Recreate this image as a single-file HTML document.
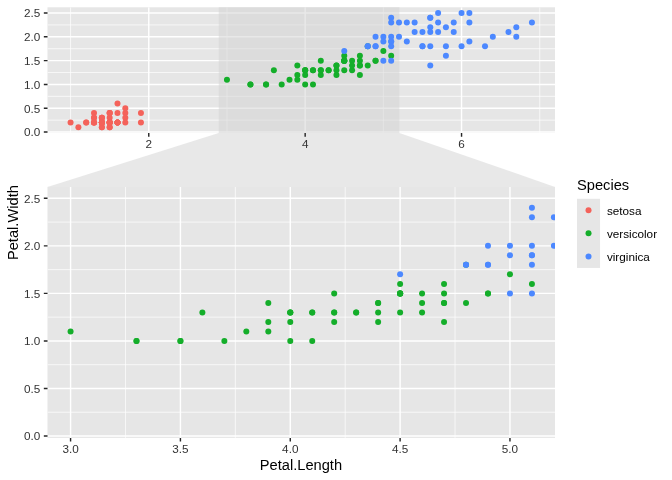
<!DOCTYPE html>
<html><head><meta charset="utf-8"><title>Iris facet zoom</title>
<style>html,body{margin:0;padding:0;background:#fff}svg{display:block}</style></head>
<body>
<svg width="672" height="480" viewBox="0 0 672 480" font-family="'Liberation Sans', Arial, Helvetica, sans-serif">
<rect width="672" height="480" fill="#fff"/>
<clipPath id="c1"><rect x="47.5" y="7.3" width="507.5" height="125.7"/></clipPath>
<rect x="47.5" y="7.3" width="507.5" height="125.7" fill="#e6e6e6"/>
<g clip-path="url(#c1)">
<path d="M47.5 120.14H555.0M47.5 96.34H555.0M47.5 72.53H555.0M47.5 48.72H555.0M47.5 24.92H555.0M70.57 7.3V133.0M226.96 7.3V133.0M383.36 7.3V133.0M539.75 7.3V133.0" stroke="#fff" stroke-width="0.71" fill="none"/>
<path d="M47.5 132.05H555.0M47.5 108.24H555.0M47.5 84.43H555.0M47.5 60.63H555.0M47.5 36.82H555.0M47.5 13.01H555.0M148.77 7.3V133.0M305.16 7.3V133.0M461.55 7.3V133.0" stroke="#fff" stroke-width="1.42" fill="none"/>
</g>
<rect x="218.75" y="7.3" width="180.64" height="125.7" fill="#d1d1d1" fill-opacity="0.5"/>
<g clip-path="url(#c1)">
<circle cx="101.85" cy="122.53" r="3.0" fill="#F4625A"/>
<circle cx="101.85" cy="122.53" r="3.0" fill="#F4625A"/>
<circle cx="94.03" cy="122.53" r="3.0" fill="#F4625A"/>
<circle cx="109.67" cy="122.53" r="3.0" fill="#F4625A"/>
<circle cx="101.85" cy="122.53" r="3.0" fill="#F4625A"/>
<circle cx="125.31" cy="113" r="3.0" fill="#F4625A"/>
<circle cx="101.85" cy="117.76" r="3.0" fill="#F4625A"/>
<circle cx="109.67" cy="122.53" r="3.0" fill="#F4625A"/>
<circle cx="101.85" cy="122.53" r="3.0" fill="#F4625A"/>
<circle cx="109.67" cy="127.29" r="3.0" fill="#F4625A"/>
<circle cx="109.67" cy="122.53" r="3.0" fill="#F4625A"/>
<circle cx="117.49" cy="122.53" r="3.0" fill="#F4625A"/>
<circle cx="101.85" cy="127.29" r="3.0" fill="#F4625A"/>
<circle cx="78.39" cy="127.29" r="3.0" fill="#F4625A"/>
<circle cx="86.21" cy="122.53" r="3.0" fill="#F4625A"/>
<circle cx="109.67" cy="113" r="3.0" fill="#F4625A"/>
<circle cx="94.03" cy="113" r="3.0" fill="#F4625A"/>
<circle cx="101.85" cy="117.76" r="3.0" fill="#F4625A"/>
<circle cx="125.31" cy="117.76" r="3.0" fill="#F4625A"/>
<circle cx="109.67" cy="117.76" r="3.0" fill="#F4625A"/>
<circle cx="125.31" cy="122.53" r="3.0" fill="#F4625A"/>
<circle cx="109.67" cy="113" r="3.0" fill="#F4625A"/>
<circle cx="70.57" cy="122.53" r="3.0" fill="#F4625A"/>
<circle cx="125.31" cy="108.24" r="3.0" fill="#F4625A"/>
<circle cx="140.95" cy="122.53" r="3.0" fill="#F4625A"/>
<circle cx="117.49" cy="122.53" r="3.0" fill="#F4625A"/>
<circle cx="117.49" cy="113" r="3.0" fill="#F4625A"/>
<circle cx="109.67" cy="122.53" r="3.0" fill="#F4625A"/>
<circle cx="101.85" cy="122.53" r="3.0" fill="#F4625A"/>
<circle cx="117.49" cy="122.53" r="3.0" fill="#F4625A"/>
<circle cx="117.49" cy="122.53" r="3.0" fill="#F4625A"/>
<circle cx="109.67" cy="113" r="3.0" fill="#F4625A"/>
<circle cx="109.67" cy="127.29" r="3.0" fill="#F4625A"/>
<circle cx="101.85" cy="122.53" r="3.0" fill="#F4625A"/>
<circle cx="109.67" cy="122.53" r="3.0" fill="#F4625A"/>
<circle cx="86.21" cy="122.53" r="3.0" fill="#F4625A"/>
<circle cx="94.03" cy="122.53" r="3.0" fill="#F4625A"/>
<circle cx="101.85" cy="127.29" r="3.0" fill="#F4625A"/>
<circle cx="94.03" cy="122.53" r="3.0" fill="#F4625A"/>
<circle cx="109.67" cy="122.53" r="3.0" fill="#F4625A"/>
<circle cx="94.03" cy="117.76" r="3.0" fill="#F4625A"/>
<circle cx="94.03" cy="117.76" r="3.0" fill="#F4625A"/>
<circle cx="94.03" cy="122.53" r="3.0" fill="#F4625A"/>
<circle cx="117.49" cy="103.48" r="3.0" fill="#F4625A"/>
<circle cx="140.95" cy="113" r="3.0" fill="#F4625A"/>
<circle cx="101.85" cy="117.76" r="3.0" fill="#F4625A"/>
<circle cx="117.49" cy="122.53" r="3.0" fill="#F4625A"/>
<circle cx="101.85" cy="122.53" r="3.0" fill="#F4625A"/>
<circle cx="109.67" cy="122.53" r="3.0" fill="#F4625A"/>
<circle cx="101.85" cy="122.53" r="3.0" fill="#F4625A"/>
<circle cx="359.9" cy="65.39" r="3.0" fill="#14AE2A"/>
<circle cx="344.26" cy="60.63" r="3.0" fill="#14AE2A"/>
<circle cx="375.54" cy="60.63" r="3.0" fill="#14AE2A"/>
<circle cx="305.16" cy="70.15" r="3.0" fill="#14AE2A"/>
<circle cx="352.08" cy="60.63" r="3.0" fill="#14AE2A"/>
<circle cx="344.26" cy="70.15" r="3.0" fill="#14AE2A"/>
<circle cx="359.9" cy="55.87" r="3.0" fill="#14AE2A"/>
<circle cx="250.42" cy="84.43" r="3.0" fill="#14AE2A"/>
<circle cx="352.08" cy="70.15" r="3.0" fill="#14AE2A"/>
<circle cx="297.34" cy="65.39" r="3.0" fill="#14AE2A"/>
<circle cx="266.06" cy="84.43" r="3.0" fill="#14AE2A"/>
<circle cx="320.8" cy="60.63" r="3.0" fill="#14AE2A"/>
<circle cx="305.16" cy="84.43" r="3.0" fill="#14AE2A"/>
<circle cx="359.9" cy="65.39" r="3.0" fill="#14AE2A"/>
<circle cx="273.88" cy="70.15" r="3.0" fill="#14AE2A"/>
<circle cx="336.44" cy="65.39" r="3.0" fill="#14AE2A"/>
<circle cx="344.26" cy="60.63" r="3.0" fill="#14AE2A"/>
<circle cx="312.98" cy="84.43" r="3.0" fill="#14AE2A"/>
<circle cx="344.26" cy="60.63" r="3.0" fill="#14AE2A"/>
<circle cx="297.34" cy="79.67" r="3.0" fill="#14AE2A"/>
<circle cx="367.72" cy="46.34" r="3.0" fill="#14AE2A"/>
<circle cx="305.16" cy="70.15" r="3.0" fill="#14AE2A"/>
<circle cx="375.54" cy="60.63" r="3.0" fill="#14AE2A"/>
<circle cx="359.9" cy="74.91" r="3.0" fill="#14AE2A"/>
<circle cx="328.62" cy="70.15" r="3.0" fill="#14AE2A"/>
<circle cx="336.44" cy="65.39" r="3.0" fill="#14AE2A"/>
<circle cx="367.72" cy="65.39" r="3.0" fill="#14AE2A"/>
<circle cx="383.36" cy="51.1" r="3.0" fill="#14AE2A"/>
<circle cx="344.26" cy="60.63" r="3.0" fill="#14AE2A"/>
<circle cx="266.06" cy="84.43" r="3.0" fill="#14AE2A"/>
<circle cx="289.52" cy="79.67" r="3.0" fill="#14AE2A"/>
<circle cx="281.7" cy="84.43" r="3.0" fill="#14AE2A"/>
<circle cx="297.34" cy="74.91" r="3.0" fill="#14AE2A"/>
<circle cx="391.18" cy="55.87" r="3.0" fill="#14AE2A"/>
<circle cx="344.26" cy="60.63" r="3.0" fill="#14AE2A"/>
<circle cx="344.26" cy="55.87" r="3.0" fill="#14AE2A"/>
<circle cx="359.9" cy="60.63" r="3.0" fill="#14AE2A"/>
<circle cx="336.44" cy="70.15" r="3.0" fill="#14AE2A"/>
<circle cx="312.98" cy="70.15" r="3.0" fill="#14AE2A"/>
<circle cx="305.16" cy="70.15" r="3.0" fill="#14AE2A"/>
<circle cx="336.44" cy="74.91" r="3.0" fill="#14AE2A"/>
<circle cx="352.08" cy="65.39" r="3.0" fill="#14AE2A"/>
<circle cx="305.16" cy="74.91" r="3.0" fill="#14AE2A"/>
<circle cx="250.42" cy="84.43" r="3.0" fill="#14AE2A"/>
<circle cx="320.8" cy="70.15" r="3.0" fill="#14AE2A"/>
<circle cx="320.8" cy="74.91" r="3.0" fill="#14AE2A"/>
<circle cx="320.8" cy="70.15" r="3.0" fill="#14AE2A"/>
<circle cx="328.62" cy="70.15" r="3.0" fill="#14AE2A"/>
<circle cx="226.96" cy="79.67" r="3.0" fill="#14AE2A"/>
<circle cx="312.98" cy="70.15" r="3.0" fill="#14AE2A"/>
<circle cx="461.55" cy="13.01" r="3.0" fill="#4C88FF"/>
<circle cx="391.18" cy="41.58" r="3.0" fill="#4C88FF"/>
<circle cx="453.73" cy="32.06" r="3.0" fill="#4C88FF"/>
<circle cx="430.28" cy="46.34" r="3.0" fill="#4C88FF"/>
<circle cx="445.91" cy="27.3" r="3.0" fill="#4C88FF"/>
<circle cx="508.47" cy="32.06" r="3.0" fill="#4C88FF"/>
<circle cx="344.26" cy="51.1" r="3.0" fill="#4C88FF"/>
<circle cx="485.01" cy="46.34" r="3.0" fill="#4C88FF"/>
<circle cx="445.91" cy="46.34" r="3.0" fill="#4C88FF"/>
<circle cx="469.37" cy="13.01" r="3.0" fill="#4C88FF"/>
<circle cx="391.18" cy="36.82" r="3.0" fill="#4C88FF"/>
<circle cx="406.82" cy="41.58" r="3.0" fill="#4C88FF"/>
<circle cx="422.46" cy="32.06" r="3.0" fill="#4C88FF"/>
<circle cx="383.36" cy="36.82" r="3.0" fill="#4C88FF"/>
<circle cx="391.18" cy="17.78" r="3.0" fill="#4C88FF"/>
<circle cx="406.82" cy="22.54" r="3.0" fill="#4C88FF"/>
<circle cx="422.46" cy="46.34" r="3.0" fill="#4C88FF"/>
<circle cx="516.29" cy="27.3" r="3.0" fill="#4C88FF"/>
<circle cx="531.93" cy="22.54" r="3.0" fill="#4C88FF"/>
<circle cx="383.36" cy="60.63" r="3.0" fill="#4C88FF"/>
<circle cx="438.1" cy="22.54" r="3.0" fill="#4C88FF"/>
<circle cx="375.54" cy="36.82" r="3.0" fill="#4C88FF"/>
<circle cx="516.29" cy="36.82" r="3.0" fill="#4C88FF"/>
<circle cx="375.54" cy="46.34" r="3.0" fill="#4C88FF"/>
<circle cx="438.1" cy="32.06" r="3.0" fill="#4C88FF"/>
<circle cx="461.55" cy="46.34" r="3.0" fill="#4C88FF"/>
<circle cx="367.72" cy="46.34" r="3.0" fill="#4C88FF"/>
<circle cx="375.54" cy="46.34" r="3.0" fill="#4C88FF"/>
<circle cx="430.28" cy="32.06" r="3.0" fill="#4C88FF"/>
<circle cx="445.91" cy="55.87" r="3.0" fill="#4C88FF"/>
<circle cx="469.37" cy="41.58" r="3.0" fill="#4C88FF"/>
<circle cx="492.83" cy="36.82" r="3.0" fill="#4C88FF"/>
<circle cx="430.28" cy="27.3" r="3.0" fill="#4C88FF"/>
<circle cx="391.18" cy="60.63" r="3.0" fill="#4C88FF"/>
<circle cx="430.28" cy="65.39" r="3.0" fill="#4C88FF"/>
<circle cx="469.37" cy="22.54" r="3.0" fill="#4C88FF"/>
<circle cx="430.28" cy="17.78" r="3.0" fill="#4C88FF"/>
<circle cx="422.46" cy="46.34" r="3.0" fill="#4C88FF"/>
<circle cx="367.72" cy="46.34" r="3.0" fill="#4C88FF"/>
<circle cx="414.64" cy="32.06" r="3.0" fill="#4C88FF"/>
<circle cx="430.28" cy="17.78" r="3.0" fill="#4C88FF"/>
<circle cx="391.18" cy="22.54" r="3.0" fill="#4C88FF"/>
<circle cx="391.18" cy="41.58" r="3.0" fill="#4C88FF"/>
<circle cx="453.73" cy="22.54" r="3.0" fill="#4C88FF"/>
<circle cx="438.1" cy="13.01" r="3.0" fill="#4C88FF"/>
<circle cx="399" cy="22.54" r="3.0" fill="#4C88FF"/>
<circle cx="383.36" cy="41.58" r="3.0" fill="#4C88FF"/>
<circle cx="399" cy="36.82" r="3.0" fill="#4C88FF"/>
<circle cx="414.64" cy="22.54" r="3.0" fill="#4C88FF"/>
<circle cx="391.18" cy="46.34" r="3.0" fill="#4C88FF"/>
</g>
<polygon points="218.75,133.0 399.39,133.0 555.0,186.9 47.5,186.9" fill="#d1d1d1" fill-opacity="0.5"/>
<path d="M43.83 132.05H47.5M43.83 108.24H47.5M43.83 84.43H47.5M43.83 60.63H47.5M43.83 36.82H47.5M43.83 13.01H47.5M148.77 133.0v3.67M305.16 133.0v3.67M461.55 133.0v3.67" stroke="#262626" stroke-width="1.42" fill="none"/>
<g font-size="11.73" fill="#333">
<text x="40.3" y="136.35" text-anchor="end">0.0</text>
<text x="40.3" y="112.54" text-anchor="end">0.5</text>
<text x="40.3" y="88.73" text-anchor="end">1.0</text>
<text x="40.3" y="64.93" text-anchor="end">1.5</text>
<text x="40.3" y="41.12" text-anchor="end">2.0</text>
<text x="40.3" y="17.31" text-anchor="end">2.5</text>
<text x="148.77" y="148.3" text-anchor="middle">2</text>
<text x="305.16" y="148.3" text-anchor="middle">4</text>
<text x="461.55" y="148.3" text-anchor="middle">6</text>
</g>
<clipPath id="c2"><rect x="47.5" y="186.9" width="507.5" height="251"/></clipPath>
<rect x="47.5" y="186.9" width="507.5" height="251" fill="#e6e6e6"/>
<g clip-path="url(#c2)">
<path d="M47.5 412.23H555.0M47.5 364.69H555.0M47.5 317.15H555.0M47.5 269.62H555.0M47.5 222.08H555.0M125.49 186.9V437.9M235.34 186.9V437.9M345.19 186.9V437.9M455.04 186.9V437.9" stroke="#fff" stroke-width="0.71" fill="none"/>
<path d="M47.5 436H555.0M47.5 388.46H555.0M47.5 340.92H555.0M47.5 293.38H555.0M47.5 245.85H555.0M47.5 198.31H555.0M70.57 186.9V437.9M180.42 186.9V437.9M290.27 186.9V437.9M400.11 186.9V437.9M509.96 186.9V437.9" stroke="#fff" stroke-width="1.42" fill="none"/>
</g>
<g clip-path="url(#c2)">
<circle cx="-280.95" cy="416.98" r="3.0" fill="#F4625A"/>
<circle cx="-280.95" cy="416.98" r="3.0" fill="#F4625A"/>
<circle cx="-302.92" cy="416.98" r="3.0" fill="#F4625A"/>
<circle cx="-258.98" cy="416.98" r="3.0" fill="#F4625A"/>
<circle cx="-280.95" cy="416.98" r="3.0" fill="#F4625A"/>
<circle cx="-215.04" cy="397.97" r="3.0" fill="#F4625A"/>
<circle cx="-280.95" cy="407.48" r="3.0" fill="#F4625A"/>
<circle cx="-258.98" cy="416.98" r="3.0" fill="#F4625A"/>
<circle cx="-280.95" cy="416.98" r="3.0" fill="#F4625A"/>
<circle cx="-258.98" cy="426.49" r="3.0" fill="#F4625A"/>
<circle cx="-258.98" cy="416.98" r="3.0" fill="#F4625A"/>
<circle cx="-237.01" cy="416.98" r="3.0" fill="#F4625A"/>
<circle cx="-280.95" cy="426.49" r="3.0" fill="#F4625A"/>
<circle cx="-346.86" cy="426.49" r="3.0" fill="#F4625A"/>
<circle cx="-324.89" cy="416.98" r="3.0" fill="#F4625A"/>
<circle cx="-258.98" cy="397.97" r="3.0" fill="#F4625A"/>
<circle cx="-302.92" cy="397.97" r="3.0" fill="#F4625A"/>
<circle cx="-280.95" cy="407.48" r="3.0" fill="#F4625A"/>
<circle cx="-215.04" cy="407.48" r="3.0" fill="#F4625A"/>
<circle cx="-258.98" cy="407.48" r="3.0" fill="#F4625A"/>
<circle cx="-215.04" cy="416.98" r="3.0" fill="#F4625A"/>
<circle cx="-258.98" cy="397.97" r="3.0" fill="#F4625A"/>
<circle cx="-368.83" cy="416.98" r="3.0" fill="#F4625A"/>
<circle cx="-215.04" cy="388.46" r="3.0" fill="#F4625A"/>
<circle cx="-171.1" cy="416.98" r="3.0" fill="#F4625A"/>
<circle cx="-237.01" cy="416.98" r="3.0" fill="#F4625A"/>
<circle cx="-237.01" cy="397.97" r="3.0" fill="#F4625A"/>
<circle cx="-258.98" cy="416.98" r="3.0" fill="#F4625A"/>
<circle cx="-280.95" cy="416.98" r="3.0" fill="#F4625A"/>
<circle cx="-237.01" cy="416.98" r="3.0" fill="#F4625A"/>
<circle cx="-237.01" cy="416.98" r="3.0" fill="#F4625A"/>
<circle cx="-258.98" cy="397.97" r="3.0" fill="#F4625A"/>
<circle cx="-258.98" cy="426.49" r="3.0" fill="#F4625A"/>
<circle cx="-280.95" cy="416.98" r="3.0" fill="#F4625A"/>
<circle cx="-258.98" cy="416.98" r="3.0" fill="#F4625A"/>
<circle cx="-324.89" cy="416.98" r="3.0" fill="#F4625A"/>
<circle cx="-302.92" cy="416.98" r="3.0" fill="#F4625A"/>
<circle cx="-280.95" cy="426.49" r="3.0" fill="#F4625A"/>
<circle cx="-302.92" cy="416.98" r="3.0" fill="#F4625A"/>
<circle cx="-258.98" cy="416.98" r="3.0" fill="#F4625A"/>
<circle cx="-302.92" cy="407.48" r="3.0" fill="#F4625A"/>
<circle cx="-302.92" cy="407.48" r="3.0" fill="#F4625A"/>
<circle cx="-302.92" cy="416.98" r="3.0" fill="#F4625A"/>
<circle cx="-237.01" cy="378.95" r="3.0" fill="#F4625A"/>
<circle cx="-171.1" cy="397.97" r="3.0" fill="#F4625A"/>
<circle cx="-280.95" cy="407.48" r="3.0" fill="#F4625A"/>
<circle cx="-237.01" cy="416.98" r="3.0" fill="#F4625A"/>
<circle cx="-280.95" cy="416.98" r="3.0" fill="#F4625A"/>
<circle cx="-258.98" cy="416.98" r="3.0" fill="#F4625A"/>
<circle cx="-280.95" cy="416.98" r="3.0" fill="#F4625A"/>
<circle cx="444.05" cy="302.89" r="3.0" fill="#14AE2A"/>
<circle cx="400.11" cy="293.38" r="3.0" fill="#14AE2A"/>
<circle cx="487.99" cy="293.38" r="3.0" fill="#14AE2A"/>
<circle cx="290.27" cy="312.4" r="3.0" fill="#14AE2A"/>
<circle cx="422.08" cy="293.38" r="3.0" fill="#14AE2A"/>
<circle cx="400.11" cy="312.4" r="3.0" fill="#14AE2A"/>
<circle cx="444.05" cy="283.88" r="3.0" fill="#14AE2A"/>
<circle cx="136.48" cy="340.92" r="3.0" fill="#14AE2A"/>
<circle cx="422.08" cy="312.4" r="3.0" fill="#14AE2A"/>
<circle cx="268.3" cy="302.89" r="3.0" fill="#14AE2A"/>
<circle cx="180.42" cy="340.92" r="3.0" fill="#14AE2A"/>
<circle cx="334.2" cy="293.38" r="3.0" fill="#14AE2A"/>
<circle cx="290.27" cy="340.92" r="3.0" fill="#14AE2A"/>
<circle cx="444.05" cy="302.89" r="3.0" fill="#14AE2A"/>
<circle cx="202.39" cy="312.4" r="3.0" fill="#14AE2A"/>
<circle cx="378.14" cy="302.89" r="3.0" fill="#14AE2A"/>
<circle cx="400.11" cy="293.38" r="3.0" fill="#14AE2A"/>
<circle cx="312.23" cy="340.92" r="3.0" fill="#14AE2A"/>
<circle cx="400.11" cy="293.38" r="3.0" fill="#14AE2A"/>
<circle cx="268.3" cy="331.42" r="3.0" fill="#14AE2A"/>
<circle cx="466.02" cy="264.86" r="3.0" fill="#14AE2A"/>
<circle cx="290.27" cy="312.4" r="3.0" fill="#14AE2A"/>
<circle cx="487.99" cy="293.38" r="3.0" fill="#14AE2A"/>
<circle cx="444.05" cy="321.91" r="3.0" fill="#14AE2A"/>
<circle cx="356.17" cy="312.4" r="3.0" fill="#14AE2A"/>
<circle cx="378.14" cy="302.89" r="3.0" fill="#14AE2A"/>
<circle cx="466.02" cy="302.89" r="3.0" fill="#14AE2A"/>
<circle cx="509.96" cy="274.37" r="3.0" fill="#14AE2A"/>
<circle cx="400.11" cy="293.38" r="3.0" fill="#14AE2A"/>
<circle cx="180.42" cy="340.92" r="3.0" fill="#14AE2A"/>
<circle cx="246.33" cy="331.42" r="3.0" fill="#14AE2A"/>
<circle cx="224.36" cy="340.92" r="3.0" fill="#14AE2A"/>
<circle cx="268.3" cy="321.91" r="3.0" fill="#14AE2A"/>
<circle cx="531.93" cy="283.88" r="3.0" fill="#14AE2A"/>
<circle cx="400.11" cy="293.38" r="3.0" fill="#14AE2A"/>
<circle cx="400.11" cy="283.88" r="3.0" fill="#14AE2A"/>
<circle cx="444.05" cy="293.38" r="3.0" fill="#14AE2A"/>
<circle cx="378.14" cy="312.4" r="3.0" fill="#14AE2A"/>
<circle cx="312.23" cy="312.4" r="3.0" fill="#14AE2A"/>
<circle cx="290.27" cy="312.4" r="3.0" fill="#14AE2A"/>
<circle cx="378.14" cy="321.91" r="3.0" fill="#14AE2A"/>
<circle cx="422.08" cy="302.89" r="3.0" fill="#14AE2A"/>
<circle cx="290.27" cy="321.91" r="3.0" fill="#14AE2A"/>
<circle cx="136.48" cy="340.92" r="3.0" fill="#14AE2A"/>
<circle cx="334.2" cy="312.4" r="3.0" fill="#14AE2A"/>
<circle cx="334.2" cy="321.91" r="3.0" fill="#14AE2A"/>
<circle cx="334.2" cy="312.4" r="3.0" fill="#14AE2A"/>
<circle cx="356.17" cy="312.4" r="3.0" fill="#14AE2A"/>
<circle cx="70.57" cy="331.42" r="3.0" fill="#14AE2A"/>
<circle cx="312.23" cy="312.4" r="3.0" fill="#14AE2A"/>
<circle cx="729.66" cy="198.31" r="3.0" fill="#4C88FF"/>
<circle cx="531.93" cy="255.35" r="3.0" fill="#4C88FF"/>
<circle cx="707.69" cy="236.34" r="3.0" fill="#4C88FF"/>
<circle cx="641.78" cy="264.86" r="3.0" fill="#4C88FF"/>
<circle cx="685.72" cy="226.83" r="3.0" fill="#4C88FF"/>
<circle cx="861.48" cy="236.34" r="3.0" fill="#4C88FF"/>
<circle cx="400.11" cy="274.37" r="3.0" fill="#4C88FF"/>
<circle cx="795.57" cy="264.86" r="3.0" fill="#4C88FF"/>
<circle cx="685.72" cy="264.86" r="3.0" fill="#4C88FF"/>
<circle cx="751.63" cy="198.31" r="3.0" fill="#4C88FF"/>
<circle cx="531.93" cy="245.85" r="3.0" fill="#4C88FF"/>
<circle cx="575.87" cy="255.35" r="3.0" fill="#4C88FF"/>
<circle cx="619.81" cy="236.34" r="3.0" fill="#4C88FF"/>
<circle cx="509.96" cy="245.85" r="3.0" fill="#4C88FF"/>
<circle cx="531.93" cy="207.82" r="3.0" fill="#4C88FF"/>
<circle cx="575.87" cy="217.32" r="3.0" fill="#4C88FF"/>
<circle cx="619.81" cy="264.86" r="3.0" fill="#4C88FF"/>
<circle cx="883.45" cy="226.83" r="3.0" fill="#4C88FF"/>
<circle cx="927.39" cy="217.32" r="3.0" fill="#4C88FF"/>
<circle cx="509.96" cy="293.38" r="3.0" fill="#4C88FF"/>
<circle cx="663.75" cy="217.32" r="3.0" fill="#4C88FF"/>
<circle cx="487.99" cy="245.85" r="3.0" fill="#4C88FF"/>
<circle cx="883.45" cy="245.85" r="3.0" fill="#4C88FF"/>
<circle cx="487.99" cy="264.86" r="3.0" fill="#4C88FF"/>
<circle cx="663.75" cy="236.34" r="3.0" fill="#4C88FF"/>
<circle cx="729.66" cy="264.86" r="3.0" fill="#4C88FF"/>
<circle cx="466.02" cy="264.86" r="3.0" fill="#4C88FF"/>
<circle cx="487.99" cy="264.86" r="3.0" fill="#4C88FF"/>
<circle cx="641.78" cy="236.34" r="3.0" fill="#4C88FF"/>
<circle cx="685.72" cy="283.88" r="3.0" fill="#4C88FF"/>
<circle cx="751.63" cy="255.35" r="3.0" fill="#4C88FF"/>
<circle cx="817.54" cy="245.85" r="3.0" fill="#4C88FF"/>
<circle cx="641.78" cy="226.83" r="3.0" fill="#4C88FF"/>
<circle cx="531.93" cy="293.38" r="3.0" fill="#4C88FF"/>
<circle cx="641.78" cy="302.89" r="3.0" fill="#4C88FF"/>
<circle cx="751.63" cy="217.32" r="3.0" fill="#4C88FF"/>
<circle cx="641.78" cy="207.82" r="3.0" fill="#4C88FF"/>
<circle cx="619.81" cy="264.86" r="3.0" fill="#4C88FF"/>
<circle cx="466.02" cy="264.86" r="3.0" fill="#4C88FF"/>
<circle cx="597.84" cy="236.34" r="3.0" fill="#4C88FF"/>
<circle cx="641.78" cy="207.82" r="3.0" fill="#4C88FF"/>
<circle cx="531.93" cy="217.32" r="3.0" fill="#4C88FF"/>
<circle cx="531.93" cy="255.35" r="3.0" fill="#4C88FF"/>
<circle cx="707.69" cy="217.32" r="3.0" fill="#4C88FF"/>
<circle cx="663.75" cy="198.31" r="3.0" fill="#4C88FF"/>
<circle cx="553.9" cy="217.32" r="3.0" fill="#4C88FF"/>
<circle cx="509.96" cy="255.35" r="3.0" fill="#4C88FF"/>
<circle cx="553.9" cy="245.85" r="3.0" fill="#4C88FF"/>
<circle cx="597.84" cy="217.32" r="3.0" fill="#4C88FF"/>
<circle cx="531.93" cy="264.86" r="3.0" fill="#4C88FF"/>
</g>
<path d="M43.83 436H47.5M43.83 388.46H47.5M43.83 340.92H47.5M43.83 293.38H47.5M43.83 245.85H47.5M43.83 198.31H47.5M70.57 437.9v3.67M180.42 437.9v3.67M290.27 437.9v3.67M400.11 437.9v3.67M509.96 437.9v3.67" stroke="#262626" stroke-width="1.42" fill="none"/>
<g font-size="11.73" fill="#333">
<text x="40.3" y="440.3" text-anchor="end">0.0</text>
<text x="40.3" y="392.76" text-anchor="end">0.5</text>
<text x="40.3" y="345.22" text-anchor="end">1.0</text>
<text x="40.3" y="297.68" text-anchor="end">1.5</text>
<text x="40.3" y="250.15" text-anchor="end">2.0</text>
<text x="40.3" y="202.61" text-anchor="end">2.5</text>
<text x="70.57" y="453.2" text-anchor="middle">3.0</text>
<text x="180.42" y="453.2" text-anchor="middle">3.5</text>
<text x="290.27" y="453.2" text-anchor="middle">4.0</text>
<text x="400.11" y="453.2" text-anchor="middle">4.5</text>
<text x="509.96" y="453.2" text-anchor="middle">5.0</text>
</g>
<text x="300.95" y="469.6" font-size="14.67" text-anchor="middle" fill="#000">Petal.Length</text>
<text transform="translate(18.3,222.6) rotate(-90)" font-size="14.67" text-anchor="middle" fill="#000">Petal.Width</text>
<text x="577" y="190" font-size="14.67" fill="#000">Species</text>
<rect x="577" y="198.8" width="23.04" height="69.12" fill="#e6e6e6"/>
<circle cx="588.52" cy="210.32" r="3.0" fill="#F4625A"/>
<text x="606.9" y="214.52" font-size="11.73" fill="#000">setosa</text>
<circle cx="588.52" cy="233.36" r="3.0" fill="#14AE2A"/>
<text x="606.9" y="237.56" font-size="11.73" fill="#000">versicolor</text>
<circle cx="588.52" cy="256.4" r="3.0" fill="#4C88FF"/>
<text x="606.9" y="260.6" font-size="11.73" fill="#000">virginica</text>
</svg>
</body></html>
